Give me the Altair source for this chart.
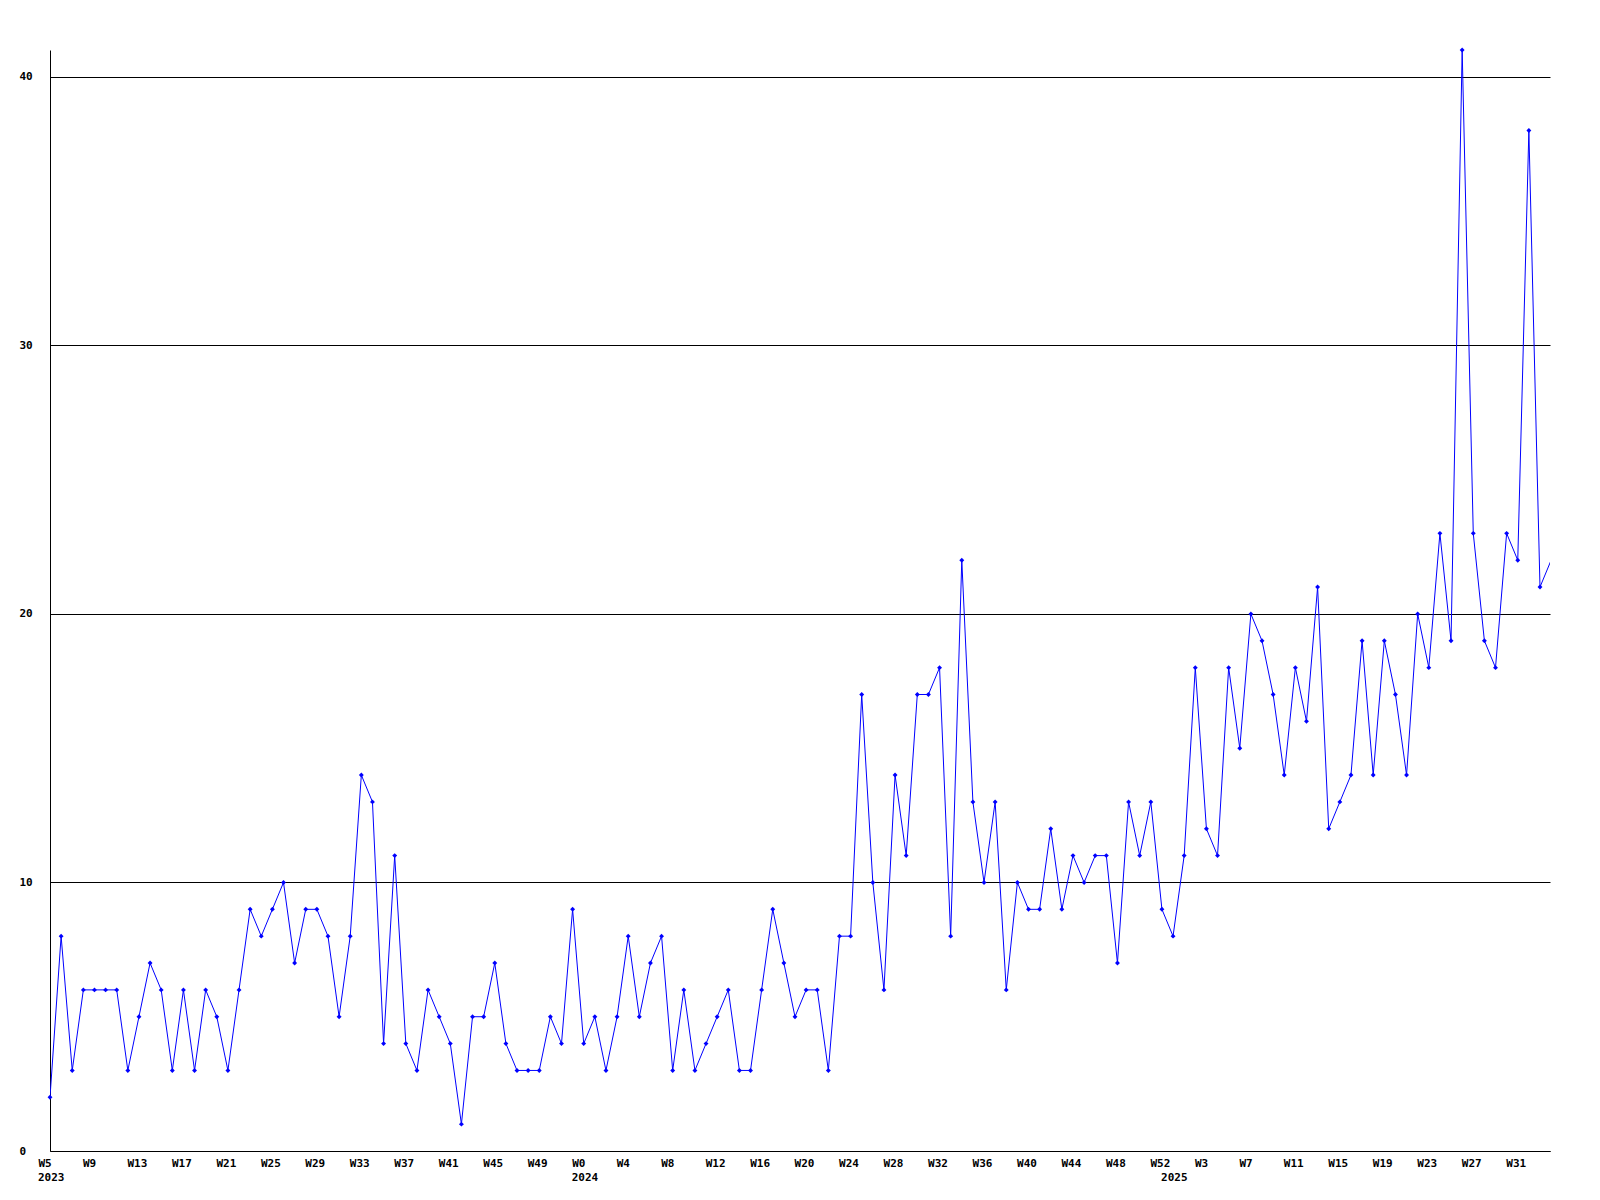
import altair as alt
import pandas as pd

# weekly values, starting 2023 W5 (one per week)
values = [
    2, 8, 3, 6, 6, 6, 6, 3, 5, 7, 6, 3, 6, 3, 6, 5, 3, 6, 9, 8,
    9, 10, 7, 9, 9, 8, 5, 8, 14, 13, 4, 11, 4, 3, 6, 5, 4, 1, 5, 5,
    7, 4, 3, 3, 3, 5, 4, 9, 4, 5, 3, 5, 8, 5, 7, 8, 3, 6, 3, 4,
    5, 6, 3, 3, 6, 9, 7, 5, 6, 6, 3, 8, 8, 17, 10, 6, 14, 11, 17, 17,
    18, 8, 22, 13, 10, 13, 6, 10, 9, 9, 12, 9, 11, 10, 11, 11, 7, 13, 11, 13,
    9, 8, 11, 18, 12, 11, 18, 15, 20, 19, 17, 14, 18, 16, 21, 12, 13, 14, 19, 14,
    19, 17, 14, 20, 18, 23, 19, 41, 23, 19, 18, 23, 22, 38, 21, 22,
]

tick_labels = [
    "W5", "W9", "W13", "W17", "W21", "W25", "W29", "W33", "W37", "W41", "W45", "W49",
    "W0", "W4", "W8", "W12", "W16", "W20", "W24", "W28", "W32", "W36", "W40", "W44", "W48", "W52",
    "W3", "W7", "W11", "W15", "W19", "W23", "W27", "W31",
]
tick_positions = [i * 4 for i in range(len(tick_labels))]

year_labels = ["2023", "2024", "2025"]
year_positions = [0, 48, 101]

y_ticks = [0, 10, 20, 30, 40]

W = 1500
H = 1101
FONT = "DejaVu Sans Mono"

df = pd.DataFrame({"i": list(range(len(values))), "v": values})
df_pts = df.iloc[:-1]
df_year = pd.DataFrame({"i": year_positions, "year": year_labels})

label_arr = "[" + ",".join("'" + t + "'" for t in tick_labels) + "]"

x_scale = alt.Scale(domain=[0, 134.9], nice=False, zero=False)
y_scale = alt.Scale(domain=[0, 41], nice=False, zero=True)

x_axis = alt.Axis(
    values=tick_positions,
    labelExpr=label_arr + "[round(datum.value/4)]",
    title=None,
    grid=False,
    ticks=False,
    tickSize=0,
    labelAlign="left",
    labelBaseline="top",
    labelOffset=-12,
    labelPadding=6,
    labelFont=FONT,
    labelFontWeight="bold",
    labelFontSize=11,
    labelColor="black",
    domainColor="black",
    domainWidth=1,
    labelOverlap=False,
)
y_axis = alt.Axis(
    values=y_ticks,
    title=None,
    grid=True,
    gridColor="black",
    gridOpacity=1,
    gridWidth=1,
    ticks=False,
    tickSize=0,
    labelAlign="left",
    labelBaseline="middle",
    labelPadding=31,
    labelFont=FONT,
    labelFontWeight="bold",
    labelFontSize=11,
    labelColor="black",
    domainColor="black",
    domainWidth=1,
)

line = alt.Chart(df).mark_line(color="#0000ff", strokeWidth=1, clip=True).encode(
    x=alt.X("i:Q", scale=x_scale, axis=x_axis),
    y=alt.Y("v:Q", scale=y_scale, axis=y_axis),
)

pts = alt.Chart(df_pts).mark_point(
    shape="diamond", filled=True, color="#0000ff", size=24, opacity=1
).encode(
    x=alt.X("i:Q", scale=x_scale),
    y=alt.Y("v:Q", scale=y_scale),
)

years = alt.Chart(df_year).mark_text(
    align="left", baseline="top", dx=-12, font=FONT, fontWeight="bold",
    fontSize=11, color="black"
).encode(
    x=alt.X("i:Q", scale=x_scale),
    y=alt.value(H + 21),
    text="year:N",
)

chart = alt.layer(line, pts, years).properties(
    width=W,
    height=H,
    padding={"left": 11, "top": 39, "right": 5, "bottom": 5},
    background="white",
).configure_view(stroke=None)

chart.save("out.html", embed_options={"renderer": "svg", "actions": False})
